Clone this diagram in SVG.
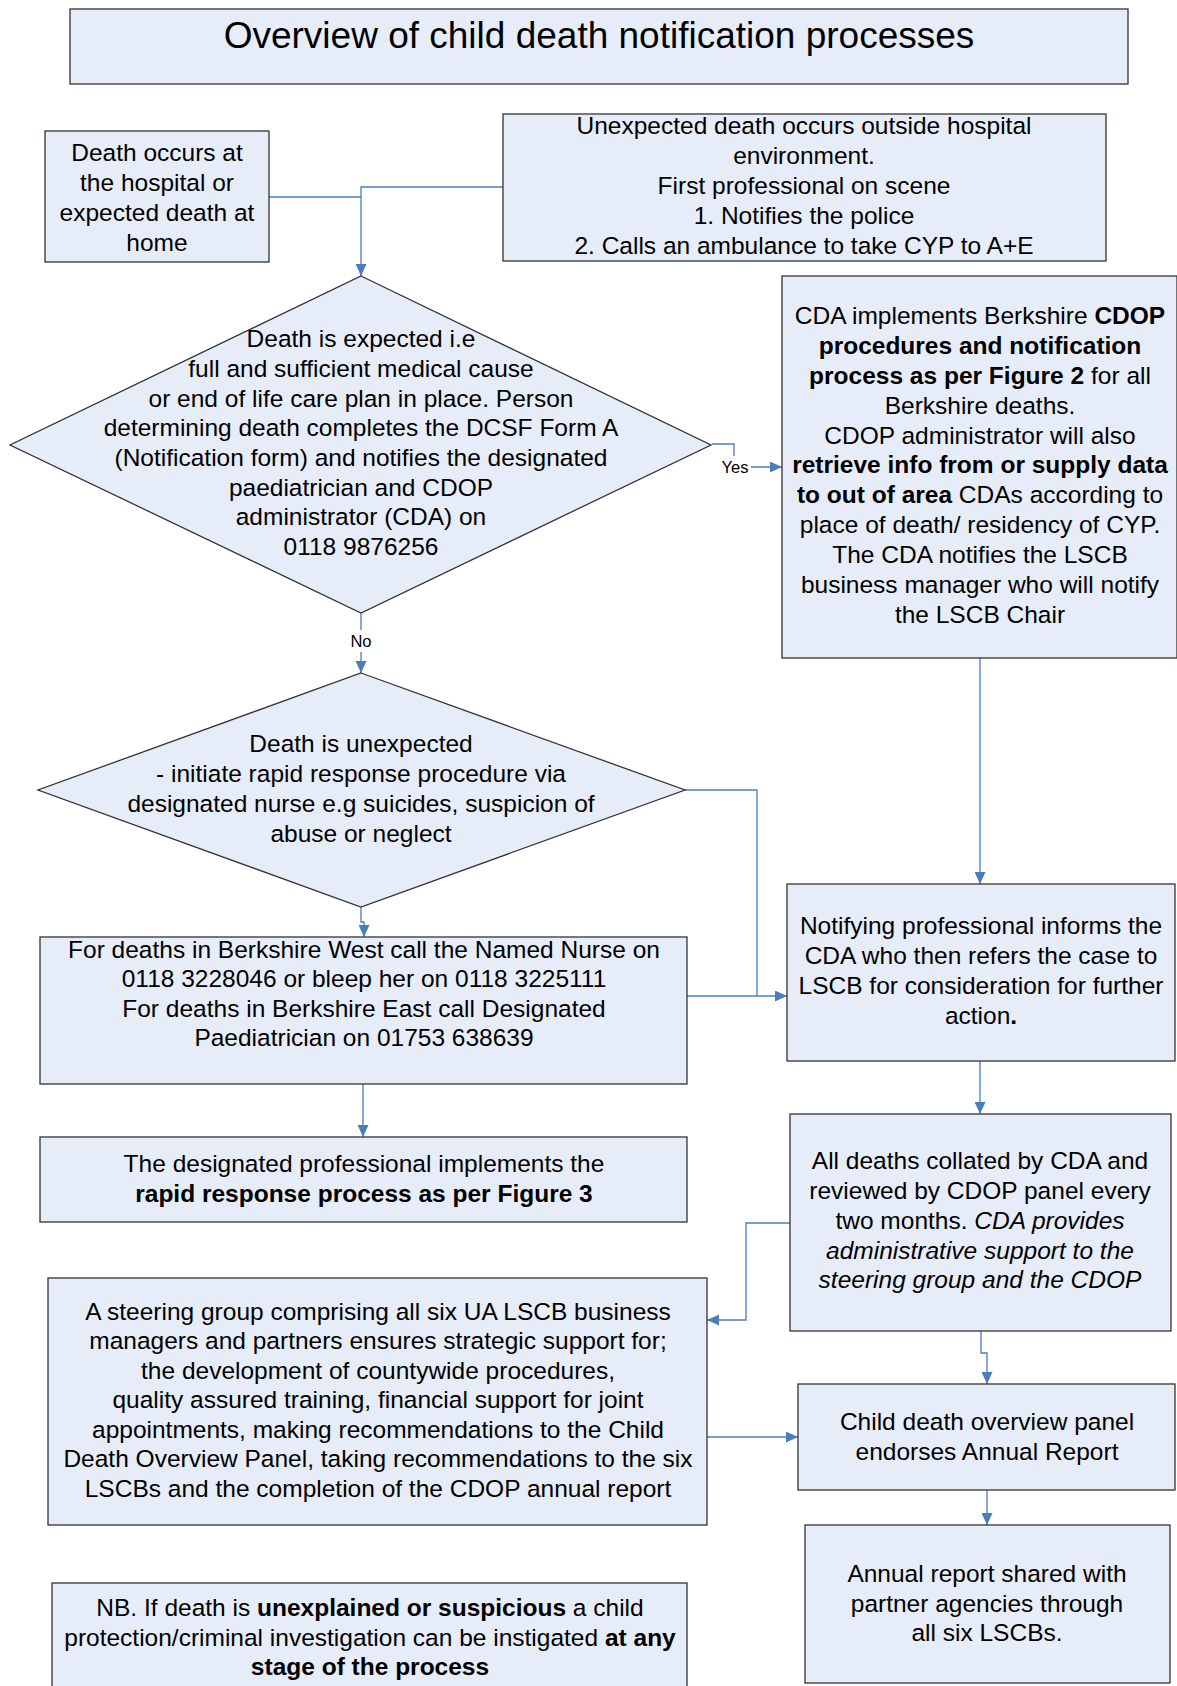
<svg xmlns="http://www.w3.org/2000/svg" width="1177" height="1686" viewBox="0 0 1177 1686">
<style>
.box{fill:#e7edf8;stroke:#333;stroke-width:1.3}
.t{font-family:"Liberation Sans",Arial,sans-serif;font-size:24.5px;fill:#000;text-anchor:middle}
.title{font-size:37px}
.lbl{font-family:"Liberation Sans",Arial,sans-serif;font-size:16.5px;fill:#000;text-anchor:middle}
.b{font-weight:bold}
.i{font-style:italic}
.conn{fill:none;stroke:#4a7ebb;stroke-width:1.3}
</style>
<defs>
<marker id="ah" markerWidth="12" markerHeight="11" refX="12" refY="5.5" orient="auto" markerUnits="userSpaceOnUse"><path d="M0,0 L12,5.5 L0,11 z" fill="#4a7ebb"/></marker>
</defs>
<rect width="1177" height="1686" fill="#fff"/>

<g id="connectors">
<path class="conn" d="M269,197 H361"/>
<path class="conn" d="M503,187 H361 V276" marker-end="url(#ah)"/>
<path class="conn" d="M712,444 H734 V467 H782" marker-end="url(#ah)"/>
<path class="conn" d="M361,613 V673" marker-end="url(#ah)"/>
<path class="conn" d="M685,790 H757 V996"/>
<path class="conn" d="M687,996 H787" marker-end="url(#ah)"/>
<path class="conn" d="M361,907 V922 H364 V937" marker-end="url(#ah)"/>
<path class="conn" d="M363,1084 V1137" marker-end="url(#ah)"/>
<path class="conn" d="M980,658 V884" marker-end="url(#ah)"/>
<path class="conn" d="M980,1061 V1114" marker-end="url(#ah)"/>
<path class="conn" d="M790,1223 H746 V1320 H707" marker-end="url(#ah)"/>
<path class="conn" d="M981,1331 V1353 H987 V1384" marker-end="url(#ah)"/>
<path class="conn" d="M707,1437 H798" marker-end="url(#ah)"/>
<path class="conn" d="M987,1490 V1525" marker-end="url(#ah)"/>
<rect x="719" y="456" width="32" height="21" fill="#fff"/>
<text class="lbl" x="735" y="473">Yes</text>
<rect x="347" y="630" width="28" height="22" fill="#fff"/>
<text class="lbl" x="361" y="647">No</text>
</g>

<g id="title">
<rect class="box" x="70" y="9" width="1058" height="75"/>
<text class="t title" x="599" y="48">Overview of child death notification processes</text>
</g>

<g id="hospital">
<rect class="box" x="45" y="131" width="224" height="131"/>
<text class="t" x="157" y="161">Death occurs at</text>
<text class="t" x="157" y="191">the hospital or</text>
<text class="t" x="157" y="221">expected death at</text>
<text class="t" x="157" y="251">home</text>
</g>

<g id="outside">
<rect class="box" x="503" y="114" width="603" height="147"/>
<text class="t" x="804" y="134">Unexpected death occurs outside hospital</text>
<text class="t" x="804" y="164">environment.</text>
<text class="t" x="804" y="194">First professional on scene</text>
<text class="t" x="804" y="224">1. Notifies the police</text>
<text class="t" x="804" y="254">2. Calls an ambulance to take CYP to A+E</text>
</g>

<g id="expected">
<polygon class="box" points="361,276 711,445 361,613 10,445"/>
<text class="t" x="361" y="347">Death is expected i.e</text>
<text class="t" x="361" y="377">full and sufficient medical cause</text>
<text class="t" x="361" y="407">or end of life care plan in place. Person</text>
<text class="t" x="361" y="436">determining death completes the DCSF Form A</text>
<text class="t" x="361" y="466">(Notification form) and notifies the designated</text>
<text class="t" x="361" y="496">paediatrician and CDOP</text>
<text class="t" x="361" y="525">administrator (CDA) on</text>
<text class="t" x="361" y="555">0118 9876256</text>
</g>

<g id="cda">
<rect class="box" x="782" y="276" width="395" height="382"/>
<text class="t" x="980" y="324">CDA implements Berkshire <tspan class="b">CDOP</tspan></text>
<text class="t b" x="980" y="354">procedures and notification</text>
<text class="t" x="980" y="384"><tspan class="b">process as per Figure 2</tspan> for all</text>
<text class="t" x="980" y="414">Berkshire deaths.</text>
<text class="t" x="980" y="444">CDOP administrator will also</text>
<text class="t b" x="980" y="473">retrieve info from or supply data</text>
<text class="t" x="980" y="503"><tspan class="b">to out of area</tspan> CDAs according to</text>
<text class="t" x="980" y="533">place of death/ residency of CYP.</text>
<text class="t" x="980" y="563">The CDA notifies the LSCB</text>
<text class="t" x="980" y="593">business manager who will notify</text>
<text class="t" x="980" y="623">the LSCB Chair</text>
</g>

<g id="unexpected">
<polygon class="box" points="361,673 685,790 361,907 38,790"/>
<text class="t" x="361" y="752">Death is unexpected</text>
<text class="t" x="361" y="782">- initiate rapid response procedure via</text>
<text class="t" x="361" y="812">designated nurse e.g suicides, suspicion of</text>
<text class="t" x="361" y="842">abuse or neglect</text>
</g>

<g id="berkshire">
<rect class="box" x="40" y="937" width="647" height="147"/>
<text class="t" x="364" y="958">For deaths in Berkshire West call the Named Nurse on</text>
<text class="t" x="364" y="987">0118 3228046 or bleep her on 0118 3225111</text>
<text class="t" x="364" y="1017">For deaths in Berkshire East call Designated</text>
<text class="t" x="364" y="1046">Paediatrician on 01753 638639</text>
</g>

<g id="notifying">
<rect class="box" x="787" y="884" width="388" height="177"/>
<text class="t" x="981" y="934">Notifying professional informs the</text>
<text class="t" x="981" y="964">CDA who then refers the case to</text>
<text class="t" x="981" y="994">LSCB for consideration for further</text>
<text class="t" x="981" y="1024">action<tspan class="b">.</tspan></text>
</g>

<g id="designated">
<rect class="box" x="40" y="1137" width="647" height="85"/>
<text class="t" x="364" y="1172">The designated professional implements the</text>
<text class="t b" x="364" y="1202">rapid response process as per Figure 3</text>
</g>

<g id="collated">
<rect class="box" x="790" y="1114" width="381" height="217"/>
<text class="t" x="980" y="1169">All deaths collated by CDA and</text>
<text class="t" x="980" y="1199">reviewed by CDOP panel every</text>
<text class="t" x="980" y="1229">two months. <tspan class="i">CDA provides</tspan></text>
<text class="t i" x="980" y="1259">administrative support to the</text>
<text class="t i" x="980" y="1288">steering group and the CDOP</text>
</g>

<g id="steering">
<rect class="box" x="48" y="1278" width="659" height="247"/>
<text class="t" x="378" y="1320">A steering group comprising all six UA LSCB business</text>
<text class="t" x="378" y="1349">managers and partners ensures strategic support for;</text>
<text class="t" x="378" y="1379">the development of countywide procedures,</text>
<text class="t" x="378" y="1408">quality assured training, financial support for joint</text>
<text class="t" x="378" y="1438">appointments, making recommendations to the Child</text>
<text class="t" x="378" y="1467">Death Overview Panel, taking recommendations to the six</text>
<text class="t" x="378" y="1497">LSCBs and the completion of the CDOP annual report</text>
</g>

<g id="panel">
<rect class="box" x="798" y="1384" width="377" height="106"/>
<text class="t" x="987" y="1430">Child death overview panel</text>
<text class="t" x="987" y="1460">endorses Annual Report</text>
</g>

<g id="annual">
<rect class="box" x="805" y="1525" width="365" height="158"/>
<text class="t" x="987" y="1582">Annual report shared with</text>
<text class="t" x="987" y="1612">partner agencies through</text>
<text class="t" x="987" y="1641">all six LSCBs.</text>
</g>

<g id="nb">
<rect class="box" x="52" y="1583" width="635" height="110"/>
<text class="t" x="370" y="1616">NB. If death is <tspan class="b">unexplained or suspicious</tspan> a child</text>
<text class="t" x="370" y="1646">protection/criminal investigation can be instigated <tspan class="b">at any</tspan></text>
<text class="t b" x="370" y="1675">stage of the process</text>
</g>
</svg>
